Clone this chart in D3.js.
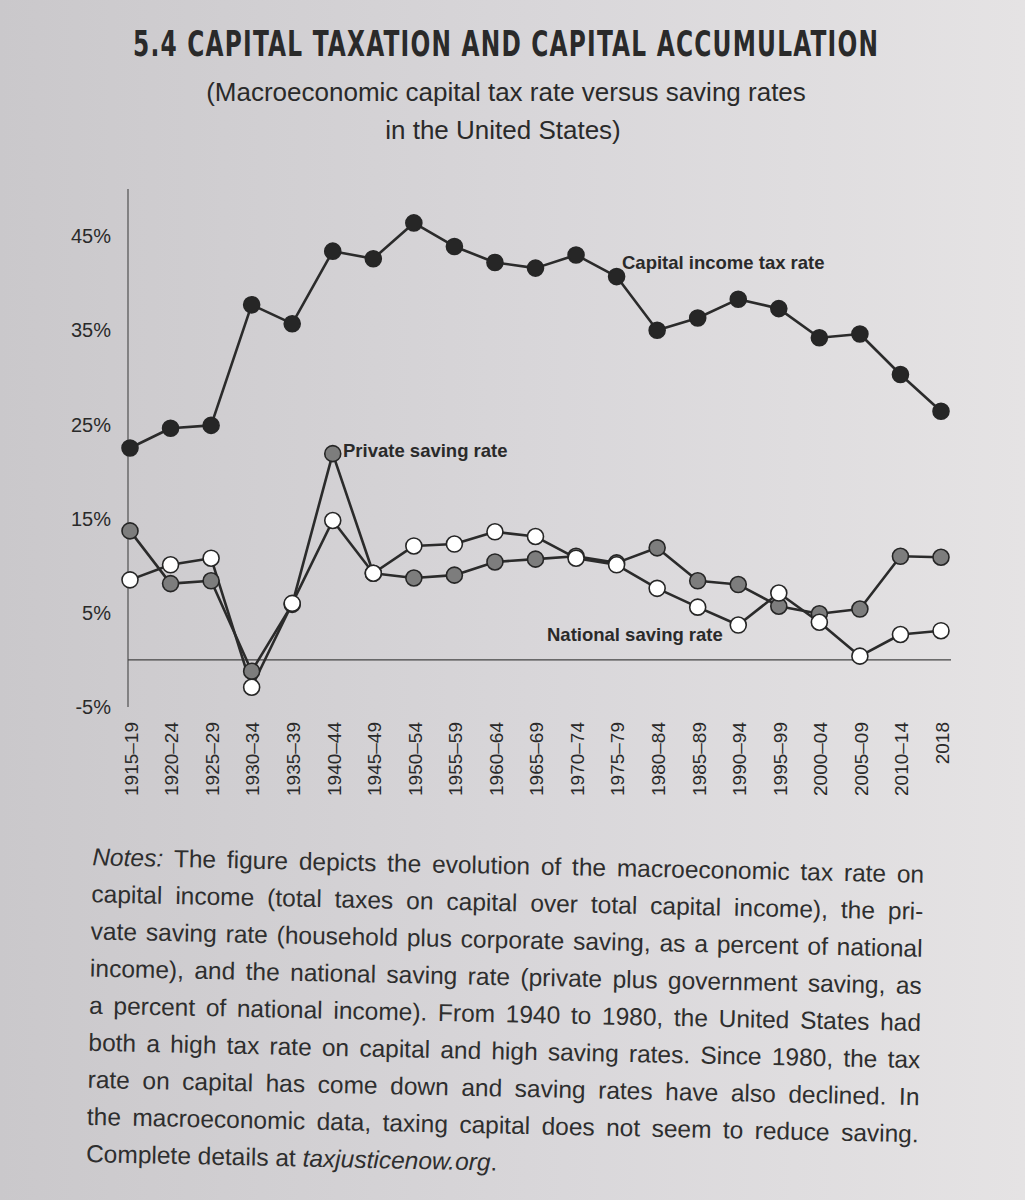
<!DOCTYPE html>
<html>
<head>
<meta charset="utf-8">
<script src="https://d3js.org/d3.v7.min.js"></script>
<style>
  body { margin: 0; }
  text { font-family: "Liberation Sans", Arial, sans-serif; fill: #2a2a2a; }
</style>
</head>
<body>
<div id="my_dataviz"></div>
<script>
  // data (percent)
  var periods = ["1915–19","1920–24","1925–29","1930–34","1935–39","1940–44","1945–49",
    "1950–54","1955–59","1960–64","1965–69","1970–74","1975–79","1980–84","1985–89",
    "1990–94","1995–99","2000–04","2005–09","2010–14","2018"];
  var taxRate = [22.5, 24.6, 24.9, 37.7, 35.7, 43.4, 42.6, 46.4, 43.9, 42.2, 41.6,
    43.0, 40.7, 35.0, 36.3, 38.3, 37.3, 34.2, 34.6, 30.3, 26.4];
  var privateSaving = [13.7, 8.1, 8.4, -1.2, 5.9, 21.9, 9.2, 8.7, 9.0, 10.4, 10.7,
    11.0, 10.3, 11.9, 8.4, 8.0, 5.7, 4.9, 5.4, 11.0, 10.9];
  var nationalSaving = [8.5, 10.1, 10.8, -2.9, 6.0, 14.8, 9.2, 12.1, 12.3, 13.6, 13.1,
    10.8, 10.1, 7.6, 5.6, 3.7, 7.1, 4.0, 0.4, 2.7, 3.1];
  var yTicks = [-5, 5, 15, 25, 35, 45];

  var notes = [
    "The figure depicts the evolution of the macroeconomic tax rate on",
    "capital income (total taxes on capital over total capital income), the pri-",
    "vate saving rate (household plus corporate saving, as a percent of national",
    "income), and the national saving rate (private plus government saving, as",
    "a percent of national income). From 1940 to 1980, the United States had",
    "both a high tax rate on capital and high saving rates. Since 1980, the tax",
    "rate on capital has come down and saving rates have also declined. In",
    "the macroeconomic data, taxing capital does not seem to reduce saving.",
    "Complete details at "
  ];

  var W = 1025, H = 1200;
  var svg = d3.select("#my_dataviz").append("svg")
    .attr("width", W).attr("height", H);

  // page background (photo of a book page, darker on the left)
  var grad = svg.append("defs").append("linearGradient")
    .attr("id", "page").attr("x1", "0").attr("x2", "1").attr("y1", "0").attr("y2", "0");
  grad.append("stop").attr("offset", "0%").attr("stop-color", "#cac8cb");
  grad.append("stop").attr("offset", "55%").attr("stop-color", "#d9d7da");
  grad.append("stop").attr("offset", "100%").attr("stop-color", "#e5e3e4");
  svg.append("rect").attr("width", W).attr("height", H).attr("fill", "url(#page)");

  // titles: narrow heavy caps, widely spaced
  var sx = 0.74;
  svg.append("g").attr("transform", "translate(133,56) scale(" + sx + ",1)")
    .append("text")
    .attr("x", 0).attr("y", 0)
    .attr("textLength", 745 / sx).attr("lengthAdjust", "spacing")
    .style("font-family", "'Liberation Sans Narrow', 'DejaVu Sans Condensed', sans-serif")
    .style("font-weight", "bold").style("font-size", "35px")
    .text("5.4 CAPITAL TAXATION AND CAPITAL ACCUMULATION");
  svg.append("text").attr("x", 506).attr("y", 101).attr("text-anchor", "middle")
    .style("font-size", "26px")
    .text("(Macroeconomic capital tax rate versus saving rates");
  svg.append("text").attr("x", 503).attr("y", 139).attr("text-anchor", "middle")
    .style("font-size", "26px")
    .text("in the United States)");

  // scales
  var x = d3.scalePoint().domain(periods).range([130, 941]);
  var y = d3.scaleLinear().domain([-5, 50]).range([707, 189]);

  var chart = svg.append("g");

  // vertical axis and zero line
  chart.append("line")
    .attr("x1", 128).attr("x2", 128).attr("y1", y(50)).attr("y2", y(-5))
    .style("stroke", "#444").style("stroke-width", 1.1);
  chart.append("line")
    .attr("x1", 128).attr("x2", 951).attr("y1", y(0)).attr("y2", y(0))
    .style("stroke", "#444").style("stroke-width", 1.1);

  chart.selectAll(".ytick").data(yTicks).enter().append("text")
    .attr("class", "ytick")
    .attr("x", 111).attr("y", function(d) { return y(d); })
    .attr("dy", "0.36em").attr("text-anchor", "end")
    .style("font-size", "20px")
    .text(function(d) { return d + "%"; });

  chart.selectAll(".xtick").data(periods).enter().append("text")
    .attr("class", "xtick")
    .attr("transform", function(d) { return "translate(" + (x(d) + 1) + ",722) rotate(-90)"; })
    .attr("dy", "0.36em").attr("text-anchor", "end")
    .style("font-size", "19px")
    .text(function(d) { return d; });

  var line = d3.line()
    .x(function(d, i) { return x(periods[i]); })
    .y(function(d) { return y(d); });

  var series = [
    { values: taxRate, fill: "#262626" },
    { values: privateSaving, fill: "#7d7d7d" },
    { values: nationalSaving, fill: "#ffffff" }
  ];

  series.forEach(function(s) {
    chart.append("path")
      .datum(s.values)
      .attr("d", line)
      .style("fill", "none")
      .style("stroke", "#2b2b2b")
      .style("stroke-width", 2.6)
      .style("stroke-linejoin", "round");
  });
  series.forEach(function(s) {
    chart.append("g").selectAll("circle")
      .data(s.values)
      .enter()
      .append("circle")
      .attr("cx", function(d, i) { return x(periods[i]); })
      .attr("cy", function(d) { return y(d); })
      .attr("r", 8)
      .style("fill", s.fill)
      .style("stroke", "#262626")
      .style("stroke-width", 1.6);
  });

  // series labels
  var labels = [
    { text: "Capital income tax rate", x: 622, y: 269 },
    { text: "Private saving rate", x: 343, y: 457 },
    { text: "National saving rate", x: 547, y: 641 }
  ];
  chart.selectAll(".lab").data(labels).enter().append("text")
    .attr("class", "lab")
    .attr("x", function(d) { return d.x; })
    .attr("y", function(d) { return d.y; })
    .style("font-size", "18.5px").style("font-weight", "bold")
    .text(function(d) { return d.text; });

  // notes, justified by word spacing
  var notesG = svg.append("g").attr("transform", "rotate(1.2,507,1020)");
  var left = 89, right = 921, base = 874, step = 37.1;
  notes.forEach(function(t, i) {
    var tx = notesG.append("text")
      .attr("x", left).attr("y", base + i * step)
      .style("font-size", "24.5px").style("fill", "#2e2e2e");
    if (i === 0) {
      tx.append("tspan").style("font-style", "italic").text("Notes: ");
    }
    tx.append("tspan").text(t);
    if (i === notes.length - 1) {
      tx.append("tspan").style("font-style", "italic").text("taxjusticenow.org");
      tx.append("tspan").text(".");
      return;
    }
    var w = tx.node().getComputedTextLength();
    var full = (i === 0 ? "Notes: " : "") + t;
    var gaps = full.split(" ").length - 1;
    tx.style("word-spacing", ((right - left - w) / gaps) + "px");
  });
</script>
</body>
</html>
